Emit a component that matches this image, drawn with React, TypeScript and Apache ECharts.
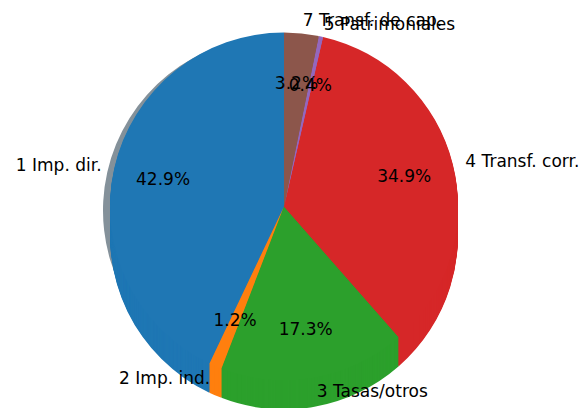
import React, { useEffect, useRef } from 'react';
import * as echarts from 'echarts';

const categories = ['1 Imp. dir.', '2 Imp. ind.', '3 Tasas/otros', '4 Transf. corr.', '5 Patrimoniales', '7 Transf. de cap.'];
const shares = [42.9, 1.2, 17.3, 34.9, 0.4, 3.2];
const colors = ['#1f77b4', '#ff7f0e', '#2ca02c', '#d62728', '#9467bd', '#8c564b'];

const CX = 284;
const CY = 206.5;
const R = 174;
const DEPTH = 29;
const LABEL_DIST = 187;
const PCT_DIST = 121;
const FONT = 'DejaVu Sans';
const FONT_SIZE = 17;

function shade(hex: string) {
  const n = parseInt(hex.slice(1), 16);
  const r = Math.round(((n >> 16) & 255) * 0.3);
  const g = Math.round(((n >> 8) & 255) * 0.3);
  const b = Math.round((n & 255) * 0.3);
  return `rgba(${r},${g},${b},0.5)`;
}

function basePie(cx: number, cy: number, radius: number, colorFn: (i: number) => string, extra: any = {}, only?: number[]) {
  return {
    type: 'pie',
    center: [cx, cy],
    radius,
    startAngle: 90,
    clockwise: false,
    silent: true,
    avoidLabelOverlap: false,
    labelLayout: { hideOverlap: false },
    label: { show: false },
    labelLine: { show: false },
    emphasis: { disabled: true },
    data: categories.map((name, i) => ({
      name,
      value: shares[i],
      itemStyle: { color: colorFn(i), borderWidth: 0 },
      label: only ? { show: only.indexOf(i) >= 0 } : undefined,
    })),
    ...extra,
  };
}

function outerLabels(only: number[]) {
  return basePie(CX, CY, R, () => 'rgba(0,0,0,0)', {
    label: {
      show: true,
      position: 'outside',
      formatter: '{b}',
      color: '#000',
      fontFamily: FONT,
      fontSize: FONT_SIZE,
      distanceToLabelLine: 0,
    },
    labelLine: { show: false, length: LABEL_DIST - R, length2: 0 },
  }, only);
}

function pctLabels(only: number[]) {
  return basePie(CX, CY, PCT_DIST * 2, () => 'rgba(0,0,0,0)', {
    label: {
      show: true,
      position: 'inside',
      formatter: (p: any) => `${Number(p.value).toFixed(1)}%`,
      color: '#000',
      fontFamily: FONT,
      fontSize: FONT_SIZE,
    },
  }, only);
}

export default function App() {
  const ref = useRef<HTMLDivElement>(null);
  useEffect(() => {
    if (!ref.current) return;
    const chart = echarts.init(ref.current, undefined, { renderer: 'svg' });
    const series: any[] = [];
    // shadow
    series.push(basePie(CX - 7, CY + 4, R, (i) => shade(colors[i])));
    // extrusion
    for (let d = DEPTH; d >= 1; d--) {
      series.push(basePie(CX, CY + d, R, (i) => colors[i]));
    }
    // main pie
    series.push(basePie(CX, CY, R, (i) => colors[i]));
    // labels split into two groups so overlapping ones are all drawn
    series.push(outerLabels([0, 1, 2, 3, 4]));
    series.push(outerLabels([5]));
    series.push(pctLabels([0, 1, 2, 3, 4]));
    series.push(pctLabels([5]));
    chart.setOption({
      animation: false,
      backgroundColor: '#ffffff',
      series,
    });
    return () => chart.dispose();
  }, []);
  return <div ref={ref} style={{ position: 'fixed', left: 0, top: 0, width: 585, height: 408 }} />;
}
